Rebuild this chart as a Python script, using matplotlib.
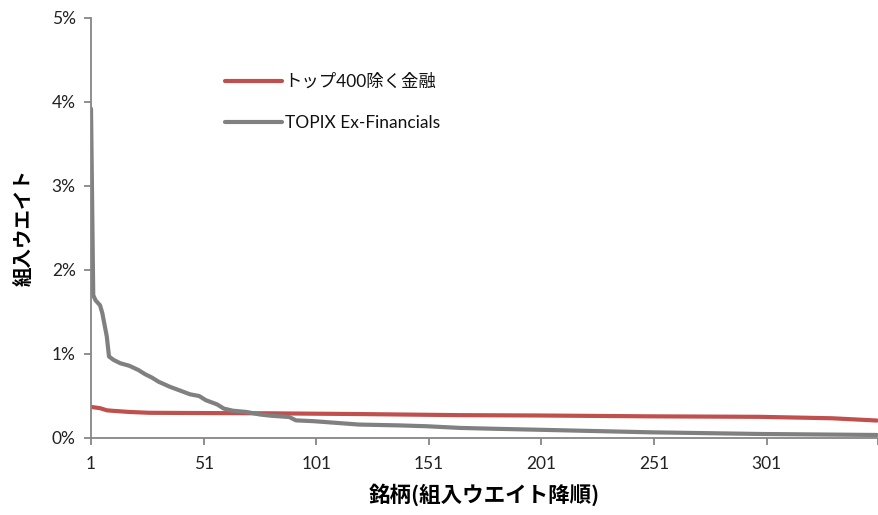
import matplotlib
matplotlib.use("Agg")
import matplotlib.pyplot as plt
from matplotlib.ticker import FuncFormatter

# ---- data (rank, weight %) ----
red_label = "トップ400除く金融"
red_x = [1, 5, 8, 10, 18, 27, 50, 80, 120, 165, 200, 249, 298, 330, 350]
red_y = [0.37, 0.355, 0.33, 0.325, 0.31, 0.30, 0.297, 0.294, 0.285, 0.272, 0.268,
         0.258, 0.252, 0.235, 0.208]

gray_label = "TOPIX Ex-Financials"
gray_x = [1, 2, 3, 5, 6, 8, 9, 11, 14, 18, 22, 25, 28, 31, 36, 41, 45, 49, 52, 57,
          60, 64, 70, 76, 81, 89, 92, 100, 120, 138, 150, 165, 180, 205, 249, 298, 350]
gray_y = [3.92, 1.70, 1.64, 1.58, 1.49, 1.21, 0.97, 0.93, 0.89, 0.86, 0.81, 0.76,
          0.72, 0.67, 0.61, 0.56, 0.52, 0.50, 0.45, 0.40, 0.35, 0.325, 0.31, 0.28,
          0.265, 0.25, 0.21, 0.20, 0.16, 0.15, 0.14, 0.12, 0.11, 0.095, 0.068,
          0.048, 0.036]

x_ticks = [1, 51, 101, 151, 201, 251, 301]
y_ticks = [0, 1, 2, 3, 4, 5]
x_label = "銘柄(組入ウエイト降順)"
y_label = "組入ウエイト"

FAM = ["Lato", "Noto Sans CJK JP", "DejaVu Sans"]
JFAM = ["Noto Sans CJK JP", "DejaVu Sans"]
plt.rcParams["font.family"] = FAM

fig = plt.figure(figsize=(8.79, 5.15), dpi=100)
ax = fig.add_axes([91 / 879, 77 / 515, 787 / 879, 420 / 515])

ax.plot(red_x, red_y, color="#C0504D", lw=3.0, solid_capstyle="round", label=red_label)
ax.plot(gray_x, gray_y, color="#808080", lw=3.0, solid_capstyle="round", label=gray_label)

ax.set_xlim(1, 350.5)
ax.set_ylim(0, 5)
ax.set_xticks(x_ticks)
ax.set_xticks([350.5], minor=True)
ax.set_yticks(y_ticks)
ax.yaxis.set_major_formatter(FuncFormatter(lambda v, p: f"{int(v)}%"))

for s in ["top", "right"]:
    ax.spines[s].set_visible(False)
for s in ["left", "bottom"]:
    ax.spines[s].set_color("#868686")
    ax.spines[s].set_linewidth(1.3)
ax.tick_params(axis="both", which="both", color="#868686", width=1.3, length=5,
               labelsize=12.5, labelcolor="#222222")
ax.tick_params(axis="y", pad=6)
ax.tick_params(axis="x", pad=8)

ax.set_ylabel(y_label, family=JFAM, fontsize=14, fontweight="bold", labelpad=13)
ax.set_xlabel(x_label, family=JFAM, fontsize=15.5, fontweight="bold", labelpad=8)

leg = ax.legend(loc="upper left", bbox_to_anchor=(0.150, 0.905), frameon=False,
                fontsize=12.5, handlelength=3.3, handletextpad=0.15, labelspacing=1.45)
for t in leg.get_texts():
    t.set_color("#111111")

fig.savefig("out.png", dpi=100)
